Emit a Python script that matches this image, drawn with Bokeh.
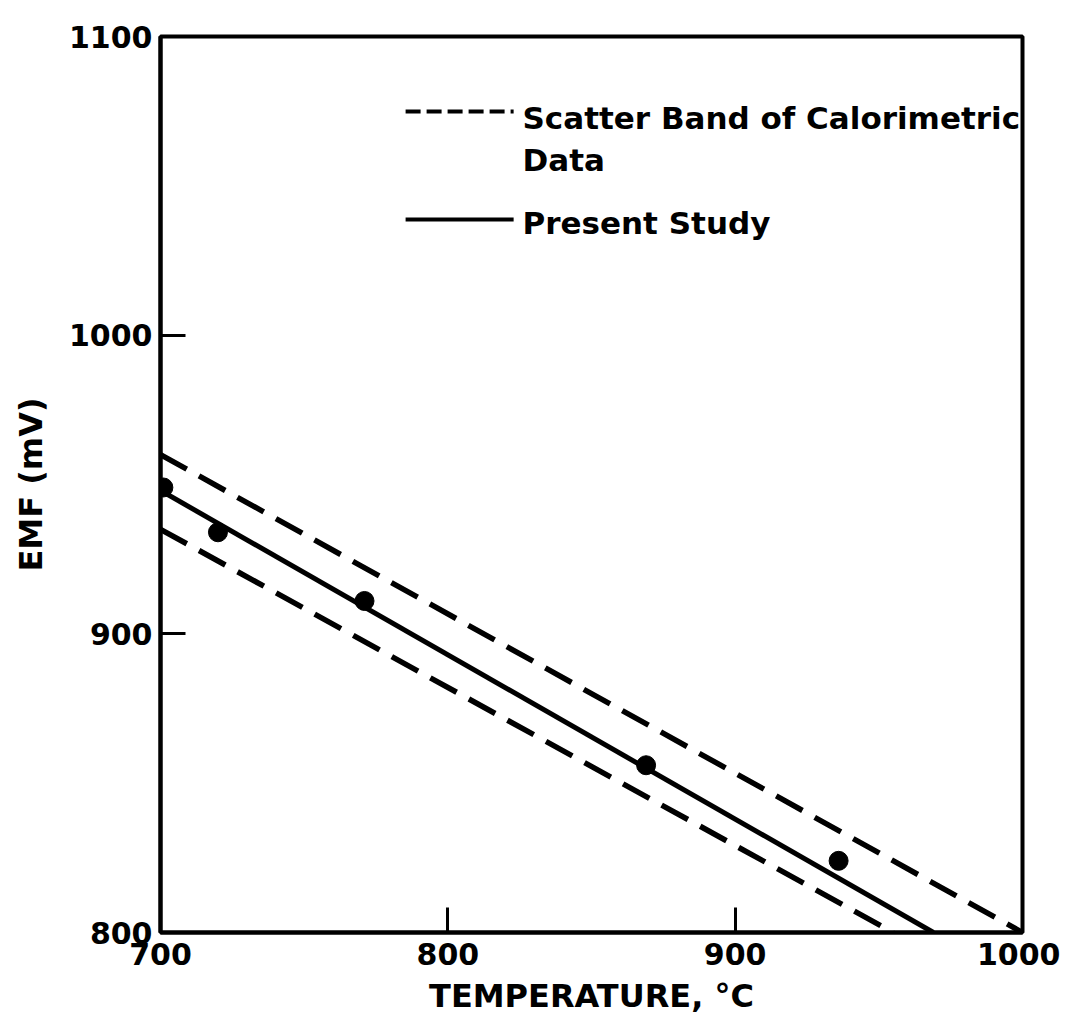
from bokeh.plotting import figure
from bokeh.models import Range1d, FixedTicker
from bokeh.core.properties import value
from bokeh.embed import file_html
from bokeh.resources import INLINE

# ---- data ----
x_ticks = [700, 800, 900, 1000]
y_ticks = [800, 900, 1000, 1100]

# measured points (Present Study)
point_temp = [701, 720, 771, 869, 936]
point_emf = [949, 934, 911, 856, 824]

# Present Study fit line
present_temp = [700, 969]
present_emf = [948, 800]

# Scatter band of calorimetric data (upper and lower bounds)
upper_temp = [700, 1000]
upper_emf = [960, 800]
lower_temp = [700, 955]
lower_emf = [935, 800]

legend_labels = ["Scatter Band of Calorimetric", "Data", "Present Study"]

FONT = "DejaVu Sans"

p = figure(width=1060, height=1017, output_backend="svg", toolbar_location=None,
           x_range=Range1d(700, 1000), y_range=Range1d(800, 1100),
           min_border_left=160, min_border_top=36, min_border_right=38,
           min_border_bottom=85)
p.background_fill_color = "white"
p.border_fill_color = "white"
p.grid.visible = False
p.outline_line_color = "black"
p.outline_line_width = 4

for ax in (p.xaxis[0], p.yaxis[0]):
    ax.axis_line_width = 4
    ax.major_tick_in = 25
    ax.major_tick_out = 0
    ax.major_tick_line_width = 3
    ax.minor_tick_line_color = None
    ax.major_label_text_font = FONT
    ax.major_label_text_font_style = "bold"
    ax.major_label_text_font_size = "30px"
    ax.major_label_text_color = "black"
    ax.axis_label_text_font = FONT
    ax.axis_label_text_font_style = "bold"
    ax.axis_label_text_font_size = "32px"
    ax.axis_label_text_color = "black"

p.xaxis.ticker = FixedTicker(ticks=x_ticks)
p.yaxis.ticker = FixedTicker(ticks=y_ticks)
p.xaxis.axis_label = "TEMPERATURE, °C"
p.yaxis.axis_label = "EMF (mV)"
p.xaxis.major_label_standoff = 10
p.yaxis.major_label_standoff = 8
p.xaxis.axis_label_standoff = 9
p.yaxis.axis_label_standoff = 16

# band lines
p.line(upper_temp, upper_emf, line_color="black", line_width=5.5, line_dash="30 14")
p.line(lower_temp, lower_emf, line_color="black", line_width=5.5, line_dash="30 14")
# present study
p.line(present_temp, present_emf, line_color="black", line_width=5)
p.scatter(point_temp, point_emf, size=19, color="black")

# legend (hand-drawn like the original)
p.line([785.3, 822.9], [1074.9, 1074.9], line_color="black", line_width=4, line_dash="15 6")
p.line([785.3, 822.9], [1038.7, 1038.7], line_color="black", line_width=4)
p.text(x=[826.0, 826.0, 826.0], y=[1072.6, 1058.5, 1037.4], text=legend_labels,
       text_font=value(FONT), text_font_style="bold", text_font_size="31px",
       text_color="black", text_baseline="alphabetic", text_align="left")

open("out.html", "w").write(file_html(p, INLINE))
